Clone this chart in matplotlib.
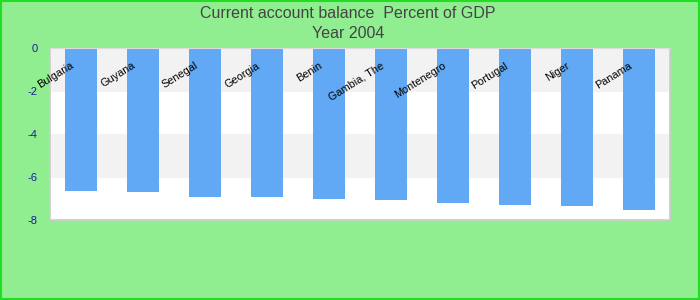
import matplotlib
matplotlib.use("Agg")
import matplotlib.pyplot as plt
import numpy as np

countries = ["Bulgaria", "Guyana", "Senegal", "Georgia", "Benin", "Gambia, The",
             "Montenegro", "Portugal", "Niger", "Panama"]
values = [-6.65, -6.70, -6.93, -6.93, -7.02, -7.07, -7.21, -7.30, -7.35, -7.53]
yticks = [0, -2, -4, -6, -8]

plt.rcParams['font.family'] = ['Liberation Sans', 'DejaVu Sans']

fig = plt.figure(figsize=(7, 3), dpi=100, facecolor='#90ee90')
fig.patches.append(plt.Rectangle((0.001, 0.002), 0.997, 0.995, transform=fig.transFigure,
                                 fill=False, edgecolor='#22dd22', linewidth=1.5))
ax = fig.add_axes([50/700, 1-220/300, 620/700, 172/300])
ax.set_facecolor('white')

x = np.arange(len(countries))
ax.set_xlim(-0.5, len(countries) - 0.5)
ax.set_ylim(-8, 0)
for lo, hi in [(-2, 0), (-6, -4)]:
    ax.axhspan(lo, hi, color='#f2f2f2', zorder=0)
ax.bar(x, values, width=0.52, color='#61a9f4', zorder=2)

for i, c in enumerate(countries):
    ax.text(i - 0.13, -0.78, c, rotation=32, ha='right', va='center',
            rotation_mode='anchor', fontsize=7.8, color='black', zorder=3)

ax.set_xticks([])
ax.set_yticks(yticks)
ax.set_yticklabels([str(t) for t in yticks], color='#1a1a9c', fontsize=8)
ax.tick_params(axis='y', length=0, pad=9)
for s in ax.spines.values():
    s.set_color('#cccccc')
    s.set_linewidth(1.2)
ax.spines['top'].set_linewidth(0.8)
ax.spines['top'].set_color('#dddddd')

fig.text(0.497, 1-13/300, "Current account balance  Percent of GDP", ha='center', va='center',
         fontsize=11.5, color='#444444')
fig.text(0.497, 1-33/300, "Year 2004", ha='center', va='center',
         fontsize=11.5, color='#444444')

fig.savefig('out.png', dpi=100, facecolor=fig.get_facecolor())
